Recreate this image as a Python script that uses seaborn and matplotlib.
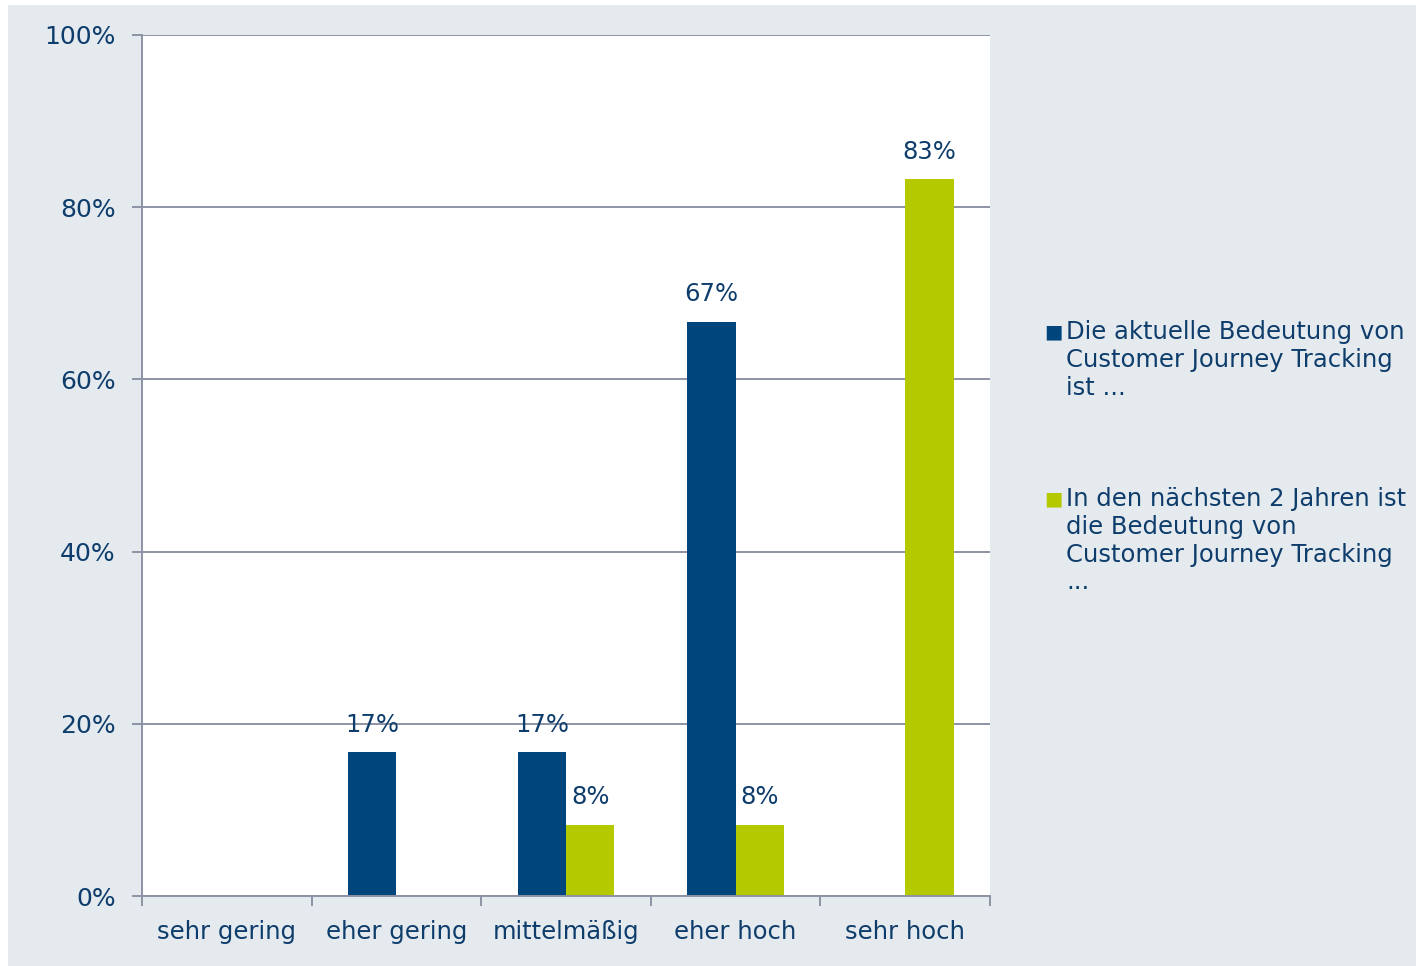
import numpy as np
import pandas as pd
import matplotlib
matplotlib.use('Agg')
import matplotlib.pyplot as plt
import seaborn as sns

# --- Daten ---
CATEGORIES = ["sehr gering", "eher gering", "mittelmäßig", "eher hoch", "sehr hoch"]
SERIES = [
    "Die aktuelle Bedeutung von\nCustomer Journey Tracking\nist ...",
    "In den nächsten 2 Jahren ist\ndie Bedeutung von\nCustomer Journey Tracking\n...",
]
AKTUELL = [0.0, 16.7, 16.7, 66.7, 0.0]
ZUKUNFT = [0.0, 0.0, 8.3, 8.3, 83.3]
Y_TICKS = [0, 20, 40, 60, 80, 100]

# --- Stil ---
BLUE = "#00457B"
GREEN = "#B4C900"
TEXT = "#0E3D6C"
GRID = "#8D93A5"
BG = "#E5EAEF"
FS = 17.5

df = pd.DataFrame({
    "Kategorie": CATEGORIES * 2,
    "Serie": [SERIES[0]] * len(CATEGORIES) + [SERIES[1]] * len(CATEGORIES),
    "Wert": AKTUELL + ZUKUNFT,
})

sns.set_theme(style="white")
plt.rcParams['font.family'] = ['DejaVu Sans']

fig = plt.figure(figsize=(14.16, 9.66), dpi=100)
fig.patch.set_facecolor("white")
# grauer Hintergrund (leicht eingerückt wie im Original)
fig.patches.append(plt.Rectangle((8 / 1416, 0), 1 - 8 / 1416, 1 - 5 / 966,
                                 transform=fig.transFigure, facecolor=BG,
                                 edgecolor="none", zorder=-10))

ax = fig.add_axes([142 / 1416, 1 - 896 / 966, (990 - 142) / 1416, (896 - 35) / 966])
ax.set_facecolor("white")

sns.barplot(data=df, x="Kategorie", y="Wert", hue="Serie", order=CATEGORIES,
            hue_order=SERIES, palette=[BLUE, GREEN], width=0.57, ax=ax,
            legend=False, errorbar=None, saturation=1, linewidth=0)

for cont, vals in zip(ax.containers, [AKTUELL, ZUKUNFT]):
    labels = [f"{v:.0f}%" if v > 0 else "" for v in vals]
    ax.bar_label(cont, labels=labels, padding=11, fontsize=FS, color=TEXT)

ax.set_ylim(0, 100)
ax.set_xlim(-0.5, len(CATEGORIES) - 0.5)
ax.set_yticks(Y_TICKS)
ax.set_yticklabels([f"{t}%" for t in Y_TICKS])
ax.yaxis.grid(True, color=GRID, linewidth=1.4)
ax.set_axisbelow(True)

ax.set_xticks(np.arange(-0.5, len(CATEGORIES), 1), minor=True)
ax.tick_params(axis="x", which="major", length=0, pad=17, labelsize=FS, labelcolor=TEXT)
ax.tick_params(axis="x", which="minor", length=7, width=1.4, color=GRID, direction="out", bottom=True)
ax.tick_params(axis="y", length=7, width=1.4, color=GRID, direction="out", left=True,
               labelsize=FS + 0.5, labelcolor=TEXT, pad=12)
ax.set_xlabel("")
ax.set_ylabel("")

for side in ["top", "right"]:
    ax.spines[side].set_visible(False)
for side in ["left", "bottom"]:
    ax.spines[side].set_color(GRID)
    ax.spines[side].set_linewidth(1.4)

# Legende (manuell, Marker an erster Zeile ausgerichtet)
for label, color, ytop in zip(SERIES, [BLUE, GREEN], [322, 489]):
    fig.text(1044 / 1416, 1 - ytop / 966, "■", color=color, fontsize=14,
             va="top", ha="left")
    fig.text(1066 / 1416, 1 - (ytop - 2) / 966, label, color=TEXT, fontsize=FS,
             va="top", ha="left", linespacing=1.2)

fig.savefig("out.png", dpi=100)
